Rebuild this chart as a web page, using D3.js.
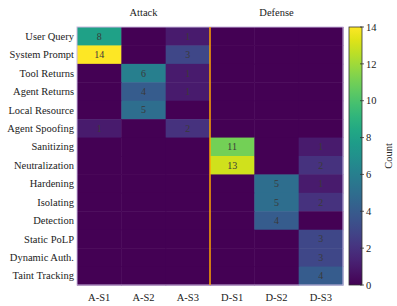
<!DOCTYPE html>
<html><head><meta charset="utf-8">
<script src="https://cdn.jsdelivr.net/npm/d3@7"></script>
<style>body{margin:0;background:#fff}svg{display:block}text{font-family:"Liberation Serif","DejaVu Serif",serif;}</style>
</head><body><svg id="c" width="397" height="306"></svg>
<script>
const columns = ["A-S1","A-S2","A-S3","D-S1","D-S2","D-S3"];
const rows = ["User Query","System Prompt","Tool Returns","Agent Returns","Local Resource","Agent Spoofing","Sanitizing","Neutralization","Hardening","Isolating","Detection","Static PoLP","Dynamic Auth.","Taint Tracking"];
const counts = [
  [8,0,1,0,0,0],
  [14,0,3,0,0,0],
  [0,6,1,0,0,0],
  [0,4,1,0,0,0],
  [0,5,0,0,0,0],
  [1,0,2,0,0,0],
  [0,0,0,11,0,1],
  [0,0,0,13,0,2],
  [0,0,0,0,5,1],
  [0,0,0,0,5,2],
  [0,0,0,0,4,0],
  [0,0,0,0,0,3],
  [0,0,0,0,0,3],
  [0,0,0,0,0,4]
];
const groupTitles = ["Attack","Defense"];
const cbTicks = [0,2,4,6,8,10,12,14];

const svg = d3.select("#c");
const L=77, R=343, T=27, B=285;
const x = d3.scaleBand().domain(columns).range([L,R]);
const y = d3.scaleBand().domain(rows).range([T,B]);
const color = d3.scaleSequential(d3.interpolateViridis).domain([0,14]);

const cells = [];
rows.forEach((r,i)=>columns.forEach((c,j)=>cells.push({r,c,v:counts[i][j]})));
svg.append("g").selectAll("rect").data(cells).join("rect")
  .attr("x",d=>x(d.c)).attr("y",d=>y(d.r))
  .attr("width",x.bandwidth()+0.5).attr("height",y.bandwidth()+0.5)
  .attr("fill",d=>color(d.v));
svg.append("g").selectAll("text").data(cells.filter(d=>d.v>0)).join("text")
  .attr("x",d=>x(d.c)+x.bandwidth()/2).attr("y",d=>y(d.r)+y.bandwidth()/2)
  .attr("dy","0.35em").attr("text-anchor","middle")
  .attr("font-size",10).attr("fill","#3a3a3a").text(d=>d.v);

// border
svg.append("rect").attr("x",L).attr("y",T).attr("width",R-L).attr("height",B-T)
  .attr("fill","none").attr("stroke","#c9b8e0").attr("stroke-width",1);

// separator
svg.append("line").attr("x1",x("D-S1")).attr("x2",x("D-S1")).attr("y1",T).attr("y2",B)
  .attr("stroke","#ffa500").attr("stroke-width",1.5);

// row labels
svg.append("g").selectAll("text").data(rows).join("text")
  .attr("x",L-3).attr("y",d=>y(d)+y.bandwidth()/2).attr("dy","0.35em")
  .attr("text-anchor","end").attr("font-size",10.5).attr("fill","#222").text(d=>d);
// column labels
svg.append("g").selectAll("text").data(columns).join("text")
  .attr("x",d=>x(d)+x.bandwidth()/2).attr("y",B+12).attr("dy","0.35em")
  .attr("text-anchor","middle").attr("font-size",10.5).attr("fill","#222").text(d=>d);
// group titles
svg.append("g").selectAll("text").data(groupTitles).join("text")
  .attr("x",(d,i)=> i===0 ? (x("A-S1")+x("A-S3")+x.bandwidth())/2 : (x("D-S1")+x("D-S3")+x.bandwidth())/2)
  .attr("y",12).attr("dy","0.35em").attr("text-anchor","middle")
  .attr("font-size",10.5).attr("fill","#222").text(d=>d);

// colorbar
const cbX=349, cbW=13;
const cy = d3.scaleLinear().domain([0,14]).range([B,T]);
const defs = svg.append("defs");
const grad = defs.append("linearGradient").attr("id","g").attr("x1",0).attr("y1",1).attr("x2",0).attr("y2",0);
d3.range(0,1.0001,0.05).forEach(t=>grad.append("stop").attr("offset",t).attr("stop-color",d3.interpolateViridis(t)));
svg.append("rect").attr("x",cbX).attr("y",T).attr("width",cbW).attr("height",B-T)
  .attr("fill","url(#g)").attr("stroke","#333").attr("stroke-width",0.8);
const cbAxis = svg.append("g");
cbAxis.selectAll("line").data(cbTicks).join("line")
  .attr("x1",cbX+cbW-2).attr("x2",cbX+cbW+2).attr("y1",d=>cy(d)).attr("y2",d=>cy(d))
  .attr("stroke","#333").attr("stroke-width",0.8);
cbAxis.selectAll("text").data(cbTicks).join("text")
  .attr("x",cbX+cbW+4).attr("y",d=>cy(d)).attr("dy","0.35em")
  .attr("font-size",10.5).attr("fill","#222").text(d=>d);
svg.append("text").attr("transform",`translate(388,${(T+B)/2}) rotate(-90)`)
  .attr("text-anchor","middle").attr("dy","0.35em").attr("font-size",10.5).attr("fill","#222").text("Count");
</script></body></html>
